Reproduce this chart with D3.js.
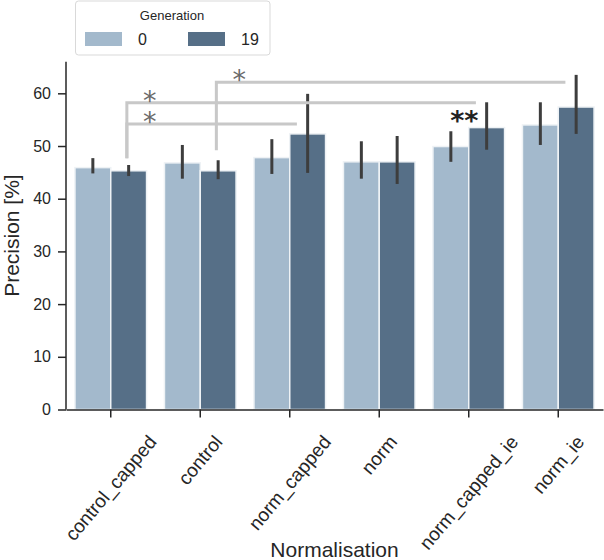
<!DOCTYPE html>
<html>
<head>
<meta charset="utf-8">
<script src="https://cdn.jsdelivr.net/npm/d3@7"></script>
<style>
  body { margin: 0; background: #fff; }
  svg { display: block; font-family: 'Liberation Sans', Arial, sans-serif; }
  .tick text { fill: #262626; font-size: 16px; }
  .label { fill: #262626; font-size: 21px; }
</style>
</head>
<body>
<svg width="604" height="560"></svg>
<script>
// values
const categories = ['control_capped', 'control', 'norm_capped', 'norm', 'norm_capped_ie', 'norm_ie'];
const generations = ['0', '19'];
const gen0   = [45.9, 46.8, 47.8, 47.0, 49.9, 54.0];
const gen0Lo = [44.8, 43.8, 44.7, 43.8, 47.0, 50.2];
const gen0Hi = [47.7, 50.2, 51.3, 50.9, 52.8, 58.3];
const gen19   = [45.3, 45.3, 52.3, 47.0, 53.5, 57.4];
const gen19Lo = [44.3, 43.7, 44.9, 42.8, 49.3, 52.3];
const gen19Hi = [46.4, 47.3, 59.9, 51.9, 58.3, 63.5];
const yTicks = [0, 10, 20, 30, 40, 50, 60];
const colors = ['#a3b9cc', '#566f87'];

// significance brackets: start category, end category, levels, mark
const bracketFrom = ['control', 'control_capped', 'control_capped'];
const bracketTo   = ['norm_ie', 'norm_capped_ie', 'norm_capped'];
const bracketLow  = [49.2, 47.7, 47.7];
const bracketHigh = [62.1, 58.2, 54.2];
const bracketMark = ['*', '*', '*'];

const svg = d3.select('svg');

const x = d3.scaleBand().domain(categories).range([66, 603]);
const y = d3.scaleLinear().domain([0, 66]).range([409.5, 61.7]);
const bw = x.bandwidth();
const barW = bw * 0.4;

const rows = [];
categories.forEach((c, i) => {
  rows.push({cat: c, g: 0, v: gen0[i], lo: gen0Lo[i], hi: gen0Hi[i]});
  rows.push({cat: c, g: 1, v: gen19[i], lo: gen19Lo[i], hi: gen19Hi[i]});
});
const barX = d => x(d.cat) + bw * 0.1 + d.g * barW;

svg.append('g').selectAll('rect')
  .data(rows).enter().append('rect')
  .attr('x', barX)
  .attr('y', d => y(d.v))
  .attr('width', barW)
  .attr('height', d => y(0) - y(d.v))
  .attr('fill', d => colors[d.g])
  .attr('stroke', '#eef2f5')
  .attr('stroke-width', 1.5);

svg.append('g').selectAll('line')
  .data(rows).enter().append('line')
  .attr('x1', d => barX(d) + barW / 2)
  .attr('x2', d => barX(d) + barW / 2)
  .attr('y1', d => y(d.lo))
  .attr('y2', d => y(d.hi))
  .attr('stroke', '#3d3d3d')
  .attr('stroke-width', 3);

// brackets
const br = svg.append('g');
bracketFrom.forEach((c, i) => {
  const x0 = x(c) + bw * 0.68;
  const x1 = x(bracketTo[i]) + bw * 0.58;
  br.append('path')
    .attr('d', `M${x0},${y(bracketLow[i])}V${y(bracketHigh[i])}H${x1}`)
    .attr('fill', 'none')
    .attr('stroke', '#c8c8c8')
    .attr('stroke-width', 3);
  br.append('text')
    .attr('x', x0 + 23)
    .attr('y', y(bracketHigh[i]) + 7)
    .attr('text-anchor', 'middle')
    .style('font-family', 'DejaVu Sans')
    .style('font-size', '27px')
    .attr('fill', '#6a6a6a')
    .text(bracketMark[i]);
});
// ** above norm_capped_ie
br.append('text')
  .attr('x', x('norm_capped_ie') + bw * 0.45)
  .attr('y', y(gen19Hi[4]) + 28)
  .attr('text-anchor', 'middle')
  .style('font-family', 'DejaVu Sans')
  .style('font-size', '27px')
  .style('font-weight', 'bold')
  .attr('fill', '#222')
  .text('**');

// axes
const yAxis = svg.append('g')
  .attr('transform', 'translate(66,0)')
  .call(d3.axisLeft(y).tickValues(yTicks).tickSize(8).tickPadding(7));
const xAxis = svg.append('g')
  .attr('transform', `translate(0,${y(0)})`)
  .call(d3.axisBottom(x).tickSize(8).tickSizeOuter(0));
[yAxis, xAxis].forEach(a => {
  a.select('.domain').attr('stroke', '#262626').attr('stroke-width', 1.5);
  a.selectAll('.tick line').attr('stroke', '#262626').attr('stroke-width', 1.5);
});
yAxis.select('.domain').attr('d', `M0,${y(66)}V${y(0)}`);
yAxis.selectAll('.tick text').style('font-size', '16px');

const ang = 50 * Math.PI / 180;
xAxis.selectAll('.tick text').each(function() {
  const t = d3.select(this);
  t.style('font-size', '19px').attr('dy', null).attr('y', 0)
    .attr('text-anchor', 'middle').attr('dominant-baseline', 'central');
  const len = this.getComputedTextLength();
  const rotH = len * Math.sin(ang) + 15 * Math.cos(ang);
  t.attr('transform', `translate(0,${24 + rotH / 2}) rotate(-50)`);
});

svg.append('text')
  .attr('class', 'label')
  .attr('transform', `translate(19,${(y(0) + y(66)) / 2}) rotate(-90)`)
  .attr('text-anchor', 'middle')
  .text('Precision [%]');

svg.append('text')
  .attr('class', 'label')
  .attr('x', 334.5)
  .attr('y', 557)
  .attr('text-anchor', 'middle')
  .text('Normalisation');

// legend
const lg = svg.append('g');
lg.append('rect')
  .attr('x', 75.5).attr('y', 1).attr('width', 194.5).attr('height', 54).attr('rx', 3)
  .attr('fill', '#fff').attr('stroke', '#d9d9d9');
lg.append('text')
  .attr('x', 172).attr('y', 20).attr('text-anchor', 'middle')
  .style('font-size', '13px').attr('fill', '#262626').text('Generation');
const lgX = [85, 188];
generations.forEach((g, i) => {
  lg.append('rect').attr('x', lgX[i]).attr('y', 32).attr('width', 37).attr('height', 14)
    .attr('fill', colors[i]);
  lg.append('text').attr('x', lgX[i] + 53).attr('y', 45)
    .style('font-size', '16px').attr('fill', '#262626').text(g);
});
</script>
</body>
</html>
